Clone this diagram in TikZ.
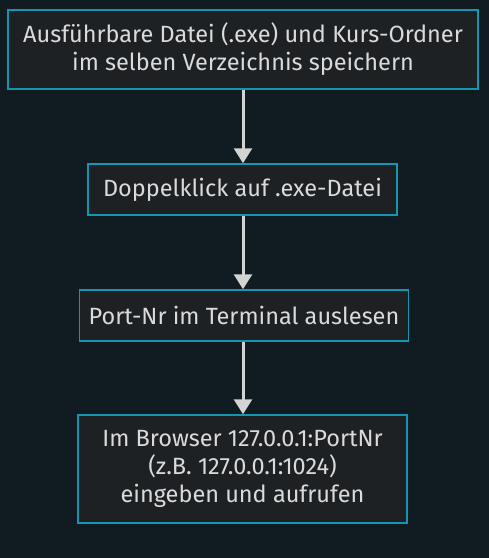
\documentclass[tikz,border=0pt]{standalone}
\usepackage{fontspec}
\setmainfont{Fira Sans}
\usetikzlibrary{arrows.meta}
\definecolor{bg}{HTML}{111B22}
\definecolor{boxfill}{HTML}{1E2124}
\definecolor{boxline}{HTML}{1596B0}
\definecolor{txt}{HTML}{DADADA}
\definecolor{arr}{HTML}{D3D3D3}
\tikzset{
  stepbox/.style={draw=boxline, fill=boxfill, line width=1.5pt, text=txt, align=center,
    font=\fontsize{23.5}{28}\selectfont, inner sep=0pt},
  conn/.style={draw=arr, line width=3pt, -{Triangle[length=15pt,width=18pt]}}
}
\begin{document}
\begin{tikzpicture}[x=1pt,y=-1pt]
\fill[bg] (0,0) rectangle (489,558);
\useasboundingbox (0,0) rectangle (489,558);
\node[stepbox, minimum width=470pt, minimum height=79pt] (a) at (243,49.5)
  {Ausführbare Datei (.exe) und Kurs-Ordner\\im selben Verzeichnis speichern};
\node[stepbox, minimum width=309pt, minimum height=51pt] (b) at (242.5,189.5)
  {Doppelklick auf .exe-Datei};
\node[stepbox, minimum width=329pt, minimum height=51pt] (c) at (244,315.5)
  {Port-Nr im Terminal auslesen};
\node[stepbox, minimum width=329pt, minimum height=108pt] (d) at (242.5,469)
  {Im Browser 127.0.0.1:PortNr\\(z.B. 127.0.0.1:1024)\\eingeben und aufrufen};
\draw[conn] (a.south -| 243,0) -- (b.north -| 243,0);
\draw[conn] (b.south -| 243,0) -- (c.north -| 243,0);
\draw[conn] (c.south -| 243,0) -- (d.north -| 243,0);
\end{tikzpicture}
\end{document}
